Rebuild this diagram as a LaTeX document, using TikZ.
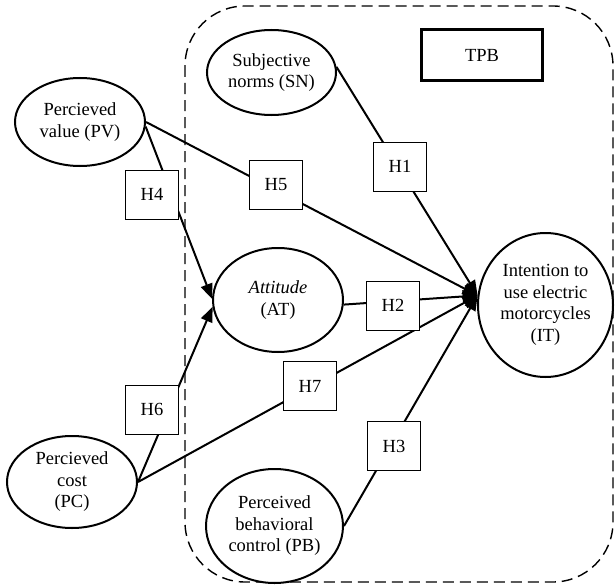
\documentclass[tikz,border=0pt]{standalone}
\usepackage{fontspec}
\setmainfont{Liberation Serif}
\usetikzlibrary{shapes.geometric,arrows.meta}
\begin{document}
\begin{tikzpicture}[x=1pt,y=-1pt,
  txt/.style={font=\fontsize{18.5}{21.5}\selectfont},
  construct/.style={ellipse,draw,fill=white,line width=2pt,inner sep=0pt,align=center,txt},
  hyp/.style={draw,fill=white,line width=0.9pt,minimum width=53pt,minimum height=49pt,inner sep=0pt,txt},
  tpbbox/.style={draw,line width=2.4pt,minimum width=121pt,minimum height=51pt,inner sep=0pt,txt},
  arr/.style={line width=2pt,-{Triangle[length=15pt,width=12pt]}},
  border/.style={line width=1.4pt,dash pattern=on 11pt off 6pt,rounded corners=60pt}
]
\useasboundingbox (0,0) rectangle (616,586);
\draw[border] (185,6) rectangle (613,582);

\node[construct,minimum width=129pt,minimum height=85pt] (sn) at (271.5,72.5) {Subjective\\norms (SN)};
\node[construct,minimum width=130pt,minimum height=88pt] (pv) at (80,122) {Percieved\\value (PV)};
\node[construct,minimum width=130pt,minimum height=104pt] (at) at (278,300) {\textit{Attitude}\\(AT)};
\node[construct,minimum width=135pt,minimum height=144pt] (it) at (545.5,305) {Intention to\\use electric\\motorcycles\\(IT)};
\node[construct,minimum width=130pt,minimum height=92pt] (pc) at (72,482) {Percieved\\cost\\(PC)};
\node[construct,minimum width=137pt,minimum height=114pt] (pb) at (274.5,526) {Perceived\\behavioral\\control (PB)};
\node[tpbbox] (tpb) at (482,55) {TPB};

\coordinate (itp) at (it.172);

\draw[arr] (sn.5) -- (itp);
\draw[arr] (pv.east) -- (itp);
\draw[arr] (at.-4) -- (itp);
\draw[arr] (pc.east) -- (itp);
\draw[arr] (pb.east) -- (itp);
\draw[arr] (pv.-4) -- (at.179);
\draw[arr] (pc.east) -- (at.186);

\node[hyp] (h1) at (400,166.5) {H1};
\node[hyp] (h5) at (276,185) {H5};
\node[hyp] (h4) at (152,194.5) {H4};
\node[hyp] (h2) at (393,305.5) {H2};
\node[hyp] (h7) at (310,386) {H7};
\node[hyp] (h6) at (152,409.5) {H6};
\node[hyp] (h3) at (394,446) {H3};
\end{tikzpicture}
\end{document}
